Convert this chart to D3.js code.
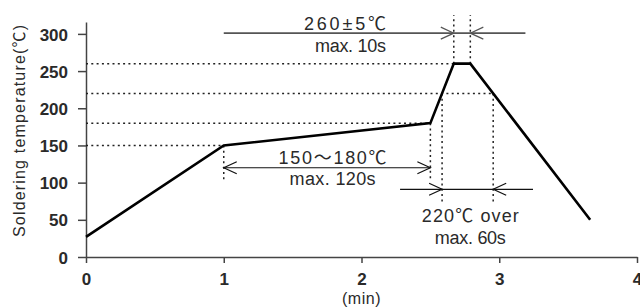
<!DOCTYPE html>
<html>
<head>
<meta charset="utf-8">
<script src="https://cdn.jsdelivr.net/npm/d3@7"></script>
<style>
  body { margin: 0; background: #fff; }
  svg { display: block; }
  text { font-family: "Liberation Sans", Arial, "Noto Sans CJK JP", sans-serif; fill: #2a2a2a; }
</style>
</head>
<body>
<div id="chart"></div>
<script>
// reflow profile, time in minutes, temperature in degC
var profileTime = [0, 1, 2.5, 2.67, 2.79, 3.66];
var profileTemp = [27, 150, 180, 260, 260, 50];

var xTicks = [0, 1, 2, 3, 4];
var yTicks = [0, 50, 100, 150, 200, 250, 300];

// dotted level guides: temperature and time where they stop
var guideTemp = [150, 180, 220, 260];
var guideEnd = [1, 2.5, 2.956, 2.67];

// dotted verticals: time, from temp, to temp
var vertTime = [1, 2.5, 2.585, 2.956, 2.67, 2.79];
var vertFrom = [150, 180, 220, 220, 260, 260];
var vertTo = [103, 103, 74, 74, 325, 325];

// dimension lines: level, line start/end, arrow positions, arrows point "in" or "out"
var dims = [
  { temp: 301, from: 1.0, to: 3.19, a: 2.67, b: 2.79, dir: "in", color: "#555", w: 1.6 },
  { temp: 120, from: 1.0, to: 2.5, a: 1.0, b: 2.5, dir: "out", color: "#111", w: 1.2 },
  { temp: 91, from: 2.28, to: 3.245, a: 2.585, b: 2.956, dir: "in", color: "#111", w: 1.2 }
];

var labels = [
  { text: "260±5℃", t: 1.88, temp: 314, len: 82 },
  { text: "max. 10s", t: 1.92, temp: 285, len: 71 },
  { text: "150～180℃", t: 1.79, temp: 134, len: 108 },
  { text: "max. 120s", t: 1.79, temp: 106, len: 86 },
  { text: "220℃ over", t: 2.79, temp: 56, len: 97 },
  { text: "max. 60s", t: 2.79, temp: 26, len: 71 }
];

var width = 640, height = 307;
var margin = { top: 22, right: 3, bottom: 50, left: 86 };

var svg = d3.select("#chart").append("svg")
    .attr("width", width)
    .attr("height", height);

var x = d3.scaleLinear().domain([0, 4]).range([margin.left, width - margin.right]);
var y = d3.scaleLinear().domain([0, 316]).range([height - margin.bottom, margin.top]);

// axes
var xAxis = svg.append("g")
    .attr("transform", "translate(0," + y(0) + ")")
    .call(d3.axisBottom(x).tickValues(xTicks).tickFormat(d3.format("d")).tickSizeInner(6).tickSizeOuter(0).tickPadding(10));
var yAxis = svg.append("g")
    .attr("transform", "translate(" + x(0) + ",0)")
    .call(d3.axisLeft(y).tickValues(yTicks).tickSizeInner(8).tickSizeOuter(0).tickPadding(10));

[xAxis, yAxis].forEach(function (g) {
  g.select(".domain").attr("stroke", "#444").attr("stroke-width", 1.5);
  g.selectAll(".tick line").attr("stroke", "#444").attr("stroke-width", 1.5);
  g.selectAll(".tick text")
    .attr("fill", "#222")
    .attr("font-size", 17)
    .attr("font-weight", "bold")
    .attr("font-family", "\"Liberation Sans\", Arial, sans-serif");
});
yAxis.selectAll(".tick text").attr("dy", "0.36em");

svg.append("text")
    .attr("x", x(2))
    .attr("y", 304)
    .attr("text-anchor", "middle")
    .attr("font-size", 16)
    .attr("letter-spacing", 0.5)
    .attr("fill", "#222")
    .text("(min)");

svg.append("text")
    .attr("transform", "translate(25," + 131 + ") rotate(-90)")
    .attr("text-anchor", "middle")
    .attr("textLength", 212)
    .attr("lengthAdjust", "spacing")
    .attr("font-size", 16)
    .attr("fill", "#333")
    .text("Soldering temperature(℃)");

// dotted guides
svg.append("g").selectAll("line")
  .data(guideTemp)
  .join("line")
    .attr("x1", x(0))
    .attr("x2", function (d, i) { return x(guideEnd[i]); })
    .attr("y1", function (d) { return y(d); })
    .attr("y2", function (d) { return y(d); })
    .attr("stroke", "#222")
    .attr("stroke-width", 1.5)
    .attr("stroke-dasharray", "2,3.3");

svg.append("g").selectAll("line")
  .data(vertTime)
  .join("line")
    .attr("x1", function (d) { return x(d); })
    .attr("x2", function (d) { return x(d); })
    .attr("y1", function (d, i) { return y(vertFrom[i]); })
    .attr("y2", function (d, i) { return y(vertTo[i]); })
    .attr("stroke", "#222")
    .attr("stroke-width", 1.5)
    .attr("stroke-dasharray", "2,3.3");

// profile line
var pts = profileTime.map(function (t, i) { return [t, profileTemp[i]]; });
svg.append("path")
    .datum(pts)
    .attr("fill", "none")
    .attr("stroke", "#000")
    .attr("stroke-width", 2.6)
    .attr("stroke-linejoin", "miter")
    .attr("d", d3.line().x(function (d) { return x(d[0]); }).y(function (d) { return y(d[1]); }));

// dimension lines with open arrow heads
function arrowHead(px, py, side) {
  // side = -1 : tip points left, +1 : tip points right
  return "M" + (px - side * 13) + "," + (py - 6) + "L" + px + "," + py + "L" + (px - side * 13) + "," + (py + 6);
}

var dg = svg.append("g").selectAll("g").data(dims).join("g");
dg.append("line")
    .attr("x1", function (d) { return x(d.from); })
    .attr("x2", function (d) { return x(d.to); })
    .attr("y1", function (d) { return y(d.temp); })
    .attr("y2", function (d) { return y(d.temp); })
    .attr("stroke", function (d) { return d.color; })
    .attr("stroke-width", function (d) { return d.w; });
dg.append("path")
    .attr("fill", "none")
    .attr("stroke", function (d) { return d.color; })
    .attr("stroke-width", 1.2)
    .attr("d", function (d) {
      var yy = y(d.temp);
      if (d.dir === "in") return arrowHead(x(d.a), yy, 1) + arrowHead(x(d.b), yy, -1);
      return arrowHead(x(d.a), yy, -1) + arrowHead(x(d.b), yy, 1);
    });

// annotation texts
svg.append("g").selectAll("text")
  .data(labels)
  .join("text")
    .attr("x", function (d) { return x(d.t); })
    .attr("y", function (d) { return y(d.temp); })
    .attr("dy", "0.36em")
    .attr("text-anchor", "middle")
    .attr("textLength", function (d) { return d.len; })
    .attr("lengthAdjust", "spacing")
    .attr("font-size", 18)
    .attr("fill", "#333")
    .text(function (d) { return d.text; });
</script>
</body>
</html>
